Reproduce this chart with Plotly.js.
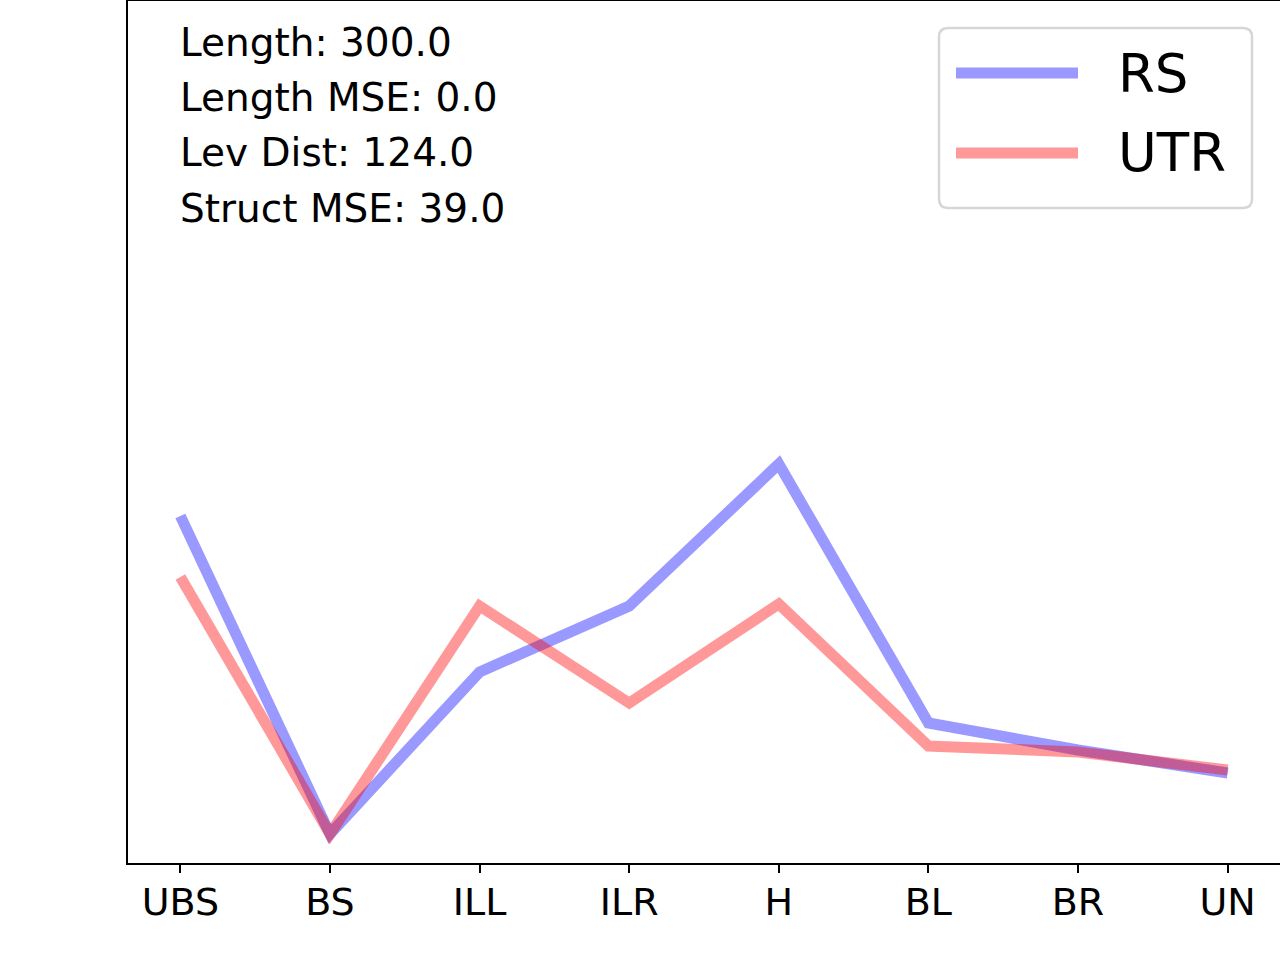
<!DOCTYPE html>
<html>
<head>
<meta charset="utf-8">
<script src="https://cdn.plot.ly/plotly-3.0.1.min.js"></script>
<style>
  body { margin: 0; background: #fff; }
  #plot { width: 1280px; height: 960px; }
</style>
</head>
<body>
<div id="plot"></div>
<script>
// loop element types along the x axis
var categorias = ['UBS', 'BS', 'ILL', 'ILR', 'H', 'BL', 'BR', 'UN'];

// values (no y scale shown)
var valoresRS = [347, 29, 191, 257, 399, 140, 113, 90];
var valoresUTR = [286, 29, 257, 160, 259, 117, 111, 93];

var nombres = ['RS', 'UTR'];
var colores = ['rgba(0,0,255,0.4)', 'rgba(255,0,0,0.4)'];

var stats = ['Length: 300.0', 'Length MSE: 0.0', 'Lev Dist: 124.0', 'Struct MSE: 39.0'];

var fuente = 'DejaVu Sans, sans-serif';

// plot area size in px (for paper coords)
var W = 1152, H = 862;

var traceRS = {
  x: categorias,
  y: valoresRS,
  name: nombres[0],
  type: 'scatter',
  mode: 'lines',
  line: { color: colores[0], width: 11 }
};

var traceUTR = {
  x: categorias,
  y: valoresUTR,
  name: nombres[1],
  type: 'scatter',
  mode: 'lines',
  line: { color: colores[1], width: 11 }
};

function px(x) { return (x - 128) / W; }
function py(y) { return 1 - (y - 1) / H; }

// text block top-left
var anotaciones = [];
for (let i = 0; i < stats.length; i++) {
  anotaciones.push({
    xref: 'paper', yref: 'paper',
    x: px(178), y: py(42 + i * 55.5),
    xanchor: 'left', yanchor: 'middle',
    text: stats[i], showarrow: false,
    font: { family: fuente, size: 39, color: '#000' }
  });
}

// hand made legend, matplotlib style (rounded frame, long line samples)
var bx0 = 939, bx1 = 1252, by0 = 28, by1 = 208, rad = 9;
var marco = 'M ' + px(bx0 + rad) + ',' + py(by0) +
  ' L ' + px(bx1 - rad) + ',' + py(by0) +
  ' Q ' + px(bx1) + ',' + py(by0) + ' ' + px(bx1) + ',' + py(by0 + rad) +
  ' L ' + px(bx1) + ',' + py(by1 - rad) +
  ' Q ' + px(bx1) + ',' + py(by1) + ' ' + px(bx1 - rad) + ',' + py(by1) +
  ' L ' + px(bx0 + rad) + ',' + py(by1) +
  ' Q ' + px(bx0) + ',' + py(by1) + ' ' + px(bx0) + ',' + py(by1 - rad) +
  ' L ' + px(bx0) + ',' + py(by0 + rad) +
  ' Q ' + px(bx0) + ',' + py(by0) + ' ' + px(bx0 + rad) + ',' + py(by0) + ' Z';

var formas = [{
  type: 'path', xref: 'paper', yref: 'paper',
  path: marco,
  line: { color: '#d6d6d6', width: 2.5 },
  fillcolor: 'rgba(255,255,255,0.8)'
}];
var filasY = [73, 153];
for (let i = 0; i < nombres.length; i++) {
  formas.push({
    type: 'line', xref: 'paper', yref: 'paper',
    x0: px(956), x1: px(1078),
    y0: py(filasY[i]), y1: py(filasY[i]),
    line: { color: colores[i], width: 11 }
  });
  anotaciones.push({
    xref: 'paper', yref: 'paper',
    x: px(1116), y: py(filasY[i]),
    xanchor: 'left', yanchor: 'middle',
    text: nombres[i], showarrow: false,
    font: { family: fuente, size: 53, color: '#000' }
  });
}

var layout = {
  width: 1280,
  height: 960,
  margin: { l: 128, r: 0, t: 1, b: 97 },
  paper_bgcolor: '#fff',
  plot_bgcolor: '#fff',
  showlegend: false,
  font: { family: fuente, color: '#000' },
  xaxis: {
    type: 'category',
    range: [-0.35, 7.35],
    showgrid: false,
    zeroline: false,
    showline: true, mirror: true,
    linecolor: '#000', linewidth: 2,
    ticks: 'outside', ticklen: 8, tickwidth: 2, tickcolor: '#000',
    ticklabelstandoff: -4,
    tickfont: { family: fuente, size: 38, color: '#000' }
  },
  yaxis: {
    range: [0, 862],
    showgrid: false,
    zeroline: false,
    showline: true, mirror: true,
    linecolor: '#000', linewidth: 2,
    ticks: '', showticklabels: false
  },
  shapes: formas,
  annotations: anotaciones
};

Plotly.newPlot('plot', [traceRS, traceUTR], layout, { staticPlot: true });
</script>
</body>
</html>
